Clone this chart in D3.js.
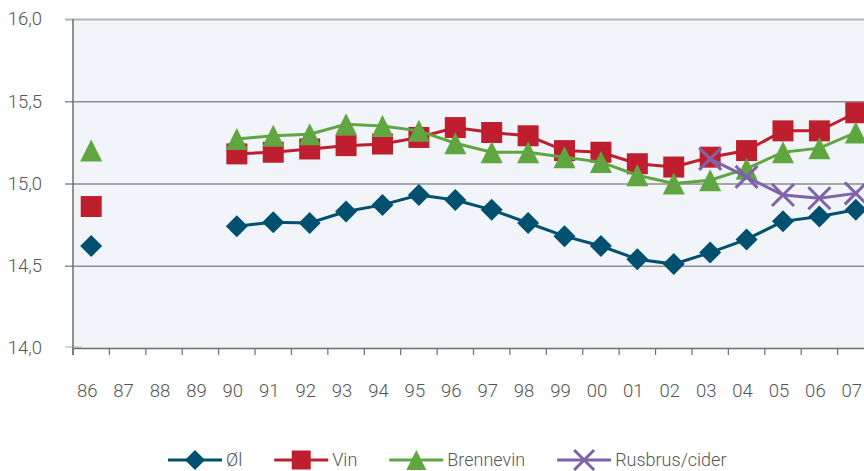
<!DOCTYPE html>
<html>
<head>
<meta charset="utf-8">
<script src="https://cdn.jsdelivr.net/npm/d3@7"></script>
<style>
  body { margin: 0; background: #fff; }
  text { font-family: Roboto, "DejaVu Sans Condensed", sans-serif; font-weight: 300; fill: #555; }
</style>
</head>
<body>
<div id="chart"></div>
<script>
const years = ["86", "87", "88", "89", "90", "91", "92", "93", "94", "95", "96",
  "97", "98", "99", "00", "01", "02", "03", "04", "05", "06", "07"];

const ol = [14.62, null, null, null, 14.74, 14.765, 14.76, 14.83, 14.87, 14.93, 14.90,
  14.84, 14.76, 14.68, 14.62, 14.54, 14.51, 14.58, 14.66, 14.77, 14.80, 14.84];
const vin = [14.86, null, null, null, 15.18, 15.19, 15.21, 15.23, 15.24, 15.28, 15.34,
  15.31, 15.29, 15.20, 15.19, 15.12, 15.10, 15.16, 15.20, 15.32, 15.32, 15.43];
const brennevin = [15.20, null, null, null, 15.27, 15.29, 15.30, 15.36, 15.35, 15.32, 15.245,
  15.19, 15.19, 15.16, 15.13, 15.05, 15.00, 15.02, 15.09, 15.19, 15.215, 15.31];
const rusbrus = [null, null, null, null, null, null, null, null, null, null, null,
  null, null, null, null, null, null, 15.15, 15.04, 14.93, 14.91, 14.94];

const yTicks = [14.0, 14.5, 15.0, 15.5, 16.0];

const series = [
  { name: "Øl", values: ol, color: "#00506f", marker: "diamond" },
  { name: "Vin", values: vin, color: "#be1e2d", marker: "square" },
  { name: "Brennevin", values: brennevin, color: "#5fa641", marker: "triangle" },
  { name: "Rusbrus/cider", values: rusbrus, color: "#7f62aa", marker: "cross" }
];

const fullWidth = 864;
const fullHeight = 471;
const margin = { top: 19, left: 73 };
const plotHeight = 329;
const plotWidth = 801;

const svg = d3.select("#chart")
  .append("svg")
  .attr("width", fullWidth)
  .attr("height", fullHeight);

const x = d3.scaleBand()
  .domain(years)
  .range([margin.left, margin.left + plotWidth]);

const y = d3.scaleLinear()
  .domain([14, 16])
  .range([margin.top + plotHeight, margin.top]);

// plot background
svg.append("rect")
  .attr("x", margin.left)
  .attr("y", margin.top)
  .attr("width", plotWidth)
  .attr("height", plotHeight)
  .attr("fill", "#f1f5f9");

// gridlines + y labels
const yAxis = svg.append("g")
  .attr("transform", `translate(${margin.left},0)`)
  .call(d3.axisLeft(y)
    .tickValues(yTicks)
    .tickSize(-plotWidth)
    .tickPadding(31)
    .tickFormat(d => d3.format(".1f")(d).replace(".", ",")));
yAxis.select(".domain").remove();
yAxis.selectAll(".tick line")
  .attr("x1", -8)
  .attr("stroke", d => d === 16 ? "#b3b5b8" : d === 14 ? "none" : "#8c8d8f")
  .attr("stroke-width", d => d === 16 ? 2 : 1.3);
yAxis.selectAll(".tick text")
  .style("font-size", "18.5px")
  .attr("fill", "#555");

// light stub at 14,0
svg.append("line")
  .attr("x1", margin.left - 8)
  .attr("x2", margin.left + 9)
  .attr("y1", y(14) - 1)
  .attr("y2", y(14) - 1)
  .attr("stroke", "#c4c6c8")
  .attr("stroke-width", 1.5);

// x axis
const xAxis = svg.append("g")
  .attr("transform", `translate(0,${y(14)})`)
  .call(d3.axisBottom(x).tickSize(0).tickPadding(36));
xAxis.select(".domain")
  .attr("stroke", "#6d6e70")
  .attr("stroke-width", 1.5);
xAxis.selectAll(".tick text")
  .style("font-size", "18.5px")
  .attr("dx", -4)
  .attr("fill", "#555");

// category boundary ticks
svg.append("g")
  .selectAll("line")
  .data(years)
  .enter()
  .append("line")
  .attr("x1", d => x(d))
  .attr("x2", d => x(d))
  .attr("y1", y(14))
  .attr("y2", y(14) + 7)
  .attr("stroke", "#6d6e70")
  .attr("stroke-width", 1.2);

// y axis line
svg.append("line")
  .attr("x1", margin.left)
  .attr("x2", margin.left)
  .attr("y1", margin.top)
  .attr("y2", y(14) + 7)
  .attr("stroke", "#6d6e70")
  .attr("stroke-width", 1.5);

const markerPath = (type, s) => {
  const h = s / 2;
  if (type === "diamond") return `M0,${-h}L${h},0L0,${h}L${-h},0Z`;
  if (type === "square") return `M${-h},${-h}H${h}V${h}H${-h}Z`;
  if (type === "triangle") return `M0,${-h}L${h},${h}L${-h},${h}Z`;
  return `M${-h},${-h}L${h},${h}M${h},${-h}L${-h},${h}`;
};

const drawMarker = (sel, s) => {
  sel.append("path")
    .attr("d", d => markerPath(d.marker, d.marker === "square" ? s - 1 : s))
    .attr("fill", d => d.marker === "cross" ? "none" : d.color)
    .attr("stroke", d => d.marker === "cross" ? d.color : "none")
    .attr("stroke-width", 3);
};

const line = d3.line()
  .defined(d => d.v != null)
  .x(d => x(d.year) + x.bandwidth() / 2)
  .y(d => y(d.v));

series.forEach(s => {
  const pts = years.map((yr, i) => ({ year: yr, v: s.values[i], marker: s.marker, color: s.color }));
  const g = svg.append("g");
  g.append("path")
    .datum(pts)
    .attr("d", line)
    .attr("fill", "none")
    .attr("stroke", s.color)
    .attr("stroke-width", 3);
  g.selectAll("g.pt")
    .data(pts.filter(d => d.v != null))
    .enter()
    .append("g")
    .attr("class", "pt")
    .attr("transform", d => `translate(${x(d.year) + x.bandwidth() / 2},${y(d.v)})`)
    .call(drawMarker, 22);
});

// legend
const legend = svg.append("g").attr("transform", "translate(168,460)");
let lx = 0;
series.forEach(s => {
  const item = legend.append("g").attr("transform", `translate(${lx},0)`);
  item.append("line")
    .attr("x1", 0)
    .attr("x2", 54)
    .attr("stroke", s.color)
    .attr("stroke-width", 3);
  item.append("g")
    .datum(s)
    .attr("transform", "translate(27,0)")
    .call(drawMarker, 20);
  const t = item.append("text")
    .attr("x", 58)
    .attr("y", 6)
    .style("font-size", "18px")
    .attr("fill", "#555")
    .text(s.name);
  lx += 58 + t.node().getComputedTextLength() + 32;
});
</script>
</body>
</html>
